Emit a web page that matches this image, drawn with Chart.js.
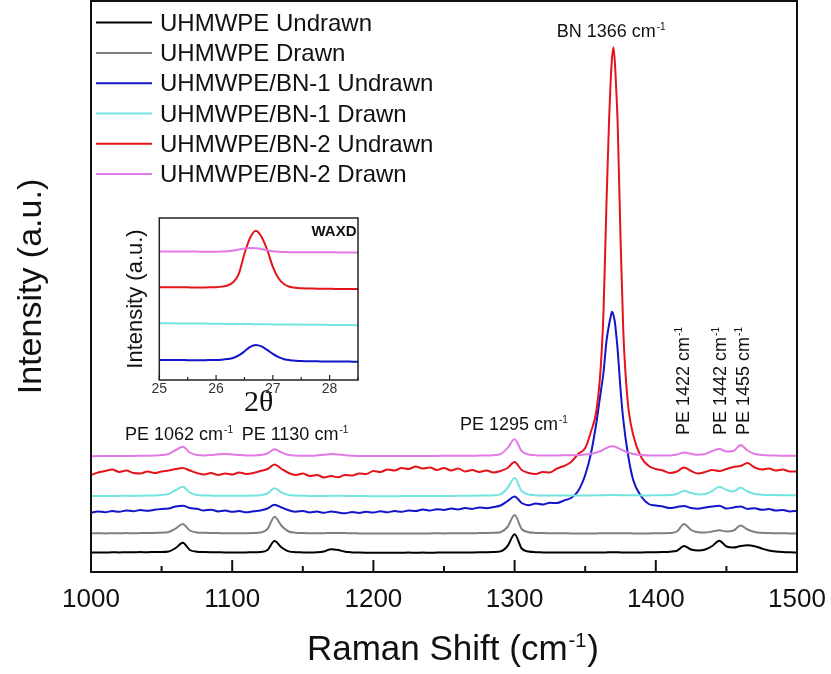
<!DOCTYPE html>
<html>
<head>
<meta charset="utf-8">
<title>Raman spectra of UHMWPE / BN fibres</title>
<script src="https://cdn.jsdelivr.net/npm/chart.js@4.4.1/dist/chart.umd.min.js"></script>
<style>
    html, body { margin: 0; padding: 0; background: #fff; }
    #wrap { position: relative; width: 831px; height: 674px; }
    #main { position: absolute; left: 0; top: 0; }
    #inset { position: absolute; left: 100px; top: 205px; }
</style>
</head>
<body>
<div id="wrap">
    <canvas id="main" width="831" height="674"></canvas>
    <canvas id="inset" width="275" height="220"></canvas>
</div>
<script>
/* =========================================
   DATA
   ========================================= */
// Raman shift (cm-1): 5 cm-1 steps, finer around the BN band
const ramanShift = [
    1000, 1005, 1010, 1015, 1020, 1025, 1030, 1035, 1040, 1045,
    1050, 1055, 1060, 1065, 1070, 1075, 1080, 1085, 1090, 1095,
    1100, 1105, 1110, 1115, 1120, 1125, 1130, 1135, 1140, 1145,
    1150, 1155, 1160, 1165, 1170, 1175, 1180, 1185, 1190, 1195,
    1200, 1205, 1210, 1215, 1220, 1225, 1230, 1235, 1240, 1245,
    1250, 1255, 1260, 1265, 1270, 1275, 1280, 1285, 1290, 1295,
    1300, 1305, 1310, 1315, 1320, 1325, 1330, 1335, 1340, 1345,
    1350,
    1354, 1358, 1361, 1363, 1365, 1366, 1367, 1368, 1369, 1370, 1371, 1372, 1373, 1375, 1377, 1380, 1384,
    1390, 1395, 1400, 1405, 1410, 1415, 1420, 1425, 1430, 1435, 1440, 1445, 1450, 1455, 1460, 1465, 1470, 1475, 1480, 1485, 1490, 1495, 1500
];

// Stacked intensities (a.u., offset per sample)
const peUndrawn = [
    19.5, 19.6, 19.5, 19.7, 19.6, 19.8, 19.7, 19.9, 19.8, 20.0,
    20.0, 20.5, 24.0, 29.3, 22.0, 20.3, 20.0, 19.8, 19.7, 19.6,
    19.6, 19.5, 19.6, 19.7, 19.9, 22.0, 31.0, 24.5, 20.6, 19.8,
    19.6, 19.5, 19.7, 20.6, 22.8, 22.0, 20.2, 19.6, 19.4, 19.3,
    19.3, 19.2, 19.3, 19.2, 19.3, 19.4, 19.3, 19.4, 19.3, 19.4,
    19.5, 19.4, 19.5, 19.5, 19.6, 19.7, 19.8, 20.0, 20.6, 26.0,
    37.8, 23.5, 20.5, 19.8, 19.6, 19.5, 19.5, 19.4, 19.5, 19.4,
    19.5,
    19.4, 19.5, 19.5, 19.6, 19.6, 19.7, 19.7, 19.7, 19.8, 19.8, 19.8, 19.7, 19.7, 19.6, 19.6, 19.5, 19.5,
    19.6, 19.7, 19.8, 20.0, 20.3, 21.3, 26.0, 22.5, 21.5, 22.5, 26.0, 31.3, 25.5, 24.5, 26.0, 26.8, 25.8, 23.5, 21.5, 20.5, 20.0, 19.7, 19.5
];
const peDrawn = [
    38.6, 38.7, 38.6, 38.8, 38.7, 38.9, 38.8, 38.9, 39.0, 39.1,
    39.3, 40.0, 43.5, 48.0, 41.5, 39.6, 39.2, 39.0, 38.9, 38.8,
    38.8, 38.7, 38.8, 39.0, 39.5, 43.0, 55.3, 46.0, 40.5, 39.3,
    38.9, 38.8, 38.7, 38.8, 39.0, 39.1, 38.9, 38.7, 38.6, 38.5,
    38.5, 38.4, 38.5, 38.4, 38.5, 38.5, 38.6, 38.5, 38.6, 38.7,
    38.6, 38.7, 38.7, 38.8, 38.8, 38.9, 39.0, 39.2, 39.8, 45.0,
    57.0, 43.0, 39.8, 39.1, 38.9, 38.8, 38.7, 38.7, 38.6, 38.6,
    38.6,
    38.6, 38.6, 38.7, 38.7, 38.7, 38.8, 38.8, 38.8, 38.8, 38.8, 38.8, 38.8, 38.8, 38.7, 38.7, 38.7, 38.6,
    38.6, 38.6, 38.7, 38.8, 39.0, 40.5, 48.0, 42.0, 39.8, 39.5, 40.5, 41.7, 40.5, 41.5, 46.4, 42.5, 40.0, 39.2, 38.9, 38.8, 38.7, 38.6, 38.6
];
const bn1Undrawn = [
    59.3, 60.5, 59.8, 61.0, 60.2, 61.5, 60.8, 62.0, 61.2, 62.3,
    63.0, 63.5, 65.5, 66.3, 64.0, 63.2, 61.5, 62.3, 60.6, 61.4,
    60.2, 60.9, 59.7, 60.8, 61.6, 63.5, 67.3, 64.5, 61.8, 60.3,
    61.0, 59.5, 60.4, 59.2, 60.6, 59.5, 58.8, 60.0, 59.1, 60.3,
    59.4, 60.8, 59.7, 61.0, 60.2, 61.6, 60.9, 62.5, 61.4, 62.8,
    62.0, 63.4, 62.6, 64.0, 63.1, 64.6, 63.8, 65.0, 66.5, 71.0,
    75.5, 69.0, 66.8, 68.5, 67.5, 69.2, 69.0, 71.5, 74.0, 81.0,
    97.0,
    118, 150, 180, 200, 230, 240, 248, 255, 260.3, 257, 250, 237, 222, 183, 152, 120, 92,
    75, 68, 66.5, 65.5, 64, 65, 66, 64, 63.2, 64.5, 65.5, 66.3, 63.5, 64.6, 65.6, 63, 63.8, 62.2, 63, 61.4, 62, 60.6, 61.2
];
const bn1Drawn = [
    76.0, 76.0, 76.1, 76.0, 76.1, 76.2, 76.1, 76.3, 76.4, 76.6,
    77.0, 78.0, 82.0, 85.3, 79.5, 77.0, 76.5, 76.4, 76.3, 76.3,
    76.2, 76.2, 76.3, 76.4, 76.7, 78.5, 83.7, 79.5, 77.0, 76.4,
    76.2, 76.1, 76.0, 76.0, 76.2, 76.3, 76.1, 76.0, 75.9, 75.9,
    75.8, 75.8, 75.8, 75.8, 75.9, 75.9, 75.9, 76.0, 76.0, 76.0,
    76.1, 76.1, 76.2, 76.3, 76.3, 76.4, 76.5, 76.8, 77.6, 84.0,
    94.0, 81.0, 77.5, 76.8, 76.5, 76.4, 76.4, 76.4, 76.5, 76.5,
    76.6,
    76.6, 76.7, 76.8, 76.8, 76.9, 76.9, 77.0, 77.0, 77.0, 77.0, 77.0, 76.9, 76.9, 76.8, 76.8, 76.7, 76.7,
    76.6, 76.6, 76.7, 76.8, 77.0, 78.0, 81.3, 79.0, 77.6, 78.0, 81.0, 85.3, 82.0, 80.5, 84.3, 80.5, 78.0, 77.3, 77.0, 76.9, 76.8, 76.8, 76.8
];
const bn2Undrawn = [
    97.0, 99.5, 101.0, 102.5, 100.0, 101.5, 99.0, 98.5, 100.5, 99.0,
    100.5, 101.5, 103.0, 104.0, 101.5, 99.0, 97.5, 99.0, 97.0, 98.5,
    97.5, 99.5, 98.0, 99.0, 101.0, 103.0, 107.5, 103.0, 99.0, 97.0,
    98.5, 96.0, 97.0, 94.5, 96.0, 94.7, 97.0, 96.5, 98.5, 98.0,
    101.0, 100.0, 102.5, 101.5, 104.0, 103.0, 105.5, 103.5, 104.5, 102.0,
    104.0, 101.5, 103.5, 100.5, 102.0, 100.0, 101.5, 99.5, 101.0, 104.0,
    110.0, 102.0, 99.0, 98.0, 100.0, 99.5, 103.5, 106.0, 110.0, 118.0,
    124.0,
    140, 162, 205, 262, 365, 412, 455, 490, 514, 524.7, 510, 482, 448, 335, 240, 172, 137,
    114, 106, 103, 101.5, 99, 100.5, 104.5, 101, 98.5, 100, 102, 101, 103, 105, 106, 109, 104.5, 102.5, 103.5, 101.5, 102.5, 100.5, 100.5
];
const bn2Drawn = [
    115.8, 115.9, 115.9, 116.0, 116.0, 116.1, 116.1, 116.2, 116.3, 116.5,
    116.9, 118.0, 122.0, 125.3, 119.5, 117.0, 116.6, 117.0, 117.7, 118.0,
    117.6, 117.0, 116.6, 116.6, 117.0, 118.5, 122.7, 119.5, 117.0, 116.4,
    116.2, 116.3, 116.6, 117.2, 118.0, 117.6, 116.8, 116.3, 116.1, 116.0,
    115.9, 115.9, 115.9, 115.9, 116.0, 116.0, 116.0, 116.1, 116.1, 116.1,
    116.2, 116.2, 116.2, 116.3, 116.3, 116.4, 116.5, 116.8, 117.8, 124.0,
    132.7, 121.0, 117.5, 116.8, 116.6, 116.6, 116.6, 116.7, 116.8, 117.0,
    117.4,
    118.2, 119.5, 121.0, 122.5, 124.0, 124.5, 125.2, 125.6, 125.8, 125.7, 125.3, 124.8, 124.2, 122.8, 121.3, 119.5, 118.0,
    117.0, 116.6, 116.4, 116.4, 116.6, 117.5, 119.5, 118.2, 117.2, 118.0, 121.0, 123.0, 120.5, 121.0, 127.0, 121.5, 118.0, 117.0, 116.6, 116.4, 116.3, 116.2, 116.2
];

const sampleNames = [
    'UHMWPE Undrawn', 'UHMWPE Drawn',
    'UHMWPE/BN-1 Undrawn', 'UHMWPE/BN-1 Drawn',
    'UHMWPE/BN-2 Undrawn', 'UHMWPE/BN-2 Drawn'
];
const sampleColors = ['#000000', '#808080', '#1414c8', '#74e4e0', '#e3151b', '#e27ae6'];
const mainSeries = [peUndrawn, peDrawn, bn1Undrawn, bn1Drawn, bn2Undrawn, bn2Drawn];

// x axis labels and the band assignments written next to the peaks
const shiftTicks = [1000, 1100, 1200, 1300, 1400, 1500];
const bandNames = ['PE 1062', 'PE 1130', 'PE 1295', 'BN 1366', 'PE 1422', 'PE 1442', 'PE 1455'];

// WAXD inset: 2-theta (deg) and the four samples that contain BN
const twoTheta = [
    25.0, 25.1, 25.2, 25.3, 25.4, 25.5, 25.6, 25.7, 25.8, 25.9,
    26.0, 26.1, 26.2, 26.3, 26.4, 26.5, 26.6, 26.7, 26.8, 26.9,
    27.0, 27.1, 27.2, 27.3, 27.4, 27.5, 27.6, 27.7, 27.8, 27.9,
    28.0, 28.1, 28.2, 28.3, 28.4, 28.5
];
const thetaTicks = [25, 26, 27, 28];
const waxdBn1Undrawn = [
    20.0, 20.0, 19.9, 19.9, 19.9, 19.8, 19.8, 19.8, 19.8, 19.9,
    20.0, 20.3, 20.9, 22.0, 24.5, 28.5, 33.0, 35.0, 33.5, 30.0,
    26.0, 22.8, 20.8, 19.8, 19.2, 18.9, 18.8, 18.7, 18.6, 18.5,
    18.5, 18.4, 18.4, 18.4, 18.3, 18.3
];
const waxdBn1Drawn = [
    56.7, 56.6, 56.6, 56.5, 56.5, 56.4, 56.4, 56.3, 56.3, 56.2,
    56.1, 56.1, 56.0, 56.0, 55.9, 55.8, 55.8, 55.7, 55.7, 55.6,
    55.5, 55.5, 55.4, 55.4, 55.3, 55.3, 55.2, 55.2, 55.1, 55.1,
    55.0, 55.0, 54.9, 54.9, 54.8, 54.7
];
const waxdBn2Undrawn = [
    92.7, 92.7, 92.6, 92.6, 92.5, 92.5, 92.4, 92.4, 92.4, 92.5,
    92.7, 93.2, 94.3, 97.5, 106.0, 126.0, 142.0, 149.0, 143.0, 130.0,
    113.0, 101.5, 95.5, 93.0, 92.0, 91.6, 91.4, 91.3, 91.2, 91.1,
    91.0, 90.9, 90.9, 90.8, 90.8, 90.7
];
const waxdBn2Drawn = [
    128.3, 128.3, 128.3, 128.2, 128.2, 128.2, 128.2, 128.1, 128.1, 128.1,
    128.1, 128.2, 128.5, 129.2, 130.3, 131.3, 131.8, 131.5, 130.7, 129.6,
    128.6, 128.0, 127.7, 127.6, 127.6, 127.5, 127.5, 127.5, 127.4, 127.4,
    127.4, 127.4, 127.3, 127.3, 127.3, 127.3
];
const waxdSeries = [waxdBn1Undrawn, waxdBn1Drawn, waxdBn2Undrawn, waxdBn2Drawn];
const waxdColors = [sampleColors[2], sampleColors[3], sampleColors[4], sampleColors[5]];

/* =========================================
   GLOBAL CONFIG
   ========================================= */
const SANS = "'Liberation Sans', Arial, sans-serif";
Chart.defaults.font.family = SANS;
Chart.defaults.color = '#111';

// text with a small raised part, e.g. "cm" + "-1"; returns its width
function drawSup(ctx, x, y, base, sup, tail, size, measureOnly) {
    const supSize = Math.round(size * 0.56);
    ctx.font = `${size}px ${SANS}`;
    const wBase = ctx.measureText(base).width;
    const wTail = tail ? ctx.measureText(tail).width : 0;
    ctx.font = `${supSize}px ${SANS}`;
    const wSup = ctx.measureText(sup).width;
    const total = wBase + 1 + wSup + (tail ? 1 + wTail : 0);
    if (measureOnly) return total;

    ctx.textAlign = 'left';
    ctx.textBaseline = 'alphabetic';
    ctx.font = `${size}px ${SANS}`;
    ctx.fillText(base, x, y);
    ctx.font = `${supSize}px ${SANS}`;
    ctx.fillText(sup, x + wBase + 1, y - size * 0.38);
    if (tail) {
        ctx.font = `${size}px ${SANS}`;
        ctx.fillText(tail, x + wBase + 2 + wSup, y);
    }
    return total;
}

function lineSets(series, xs, colors, names) {
    return series.map((vals, i) => ({
        label: names[i],
        data: vals.map((v, k) => ({ x: xs[k], y: v })),
        borderColor: colors[i],
        borderWidth: 2,
        pointRadius: 0,
        fill: false,
        cubicInterpolationMode: 'monotone',
        order: series.length - i // later samples on top
    }));
}

/* =========================================
   MAIN CHART DECORATION (frame, ticks, legend, labels)
   ========================================= */
const mainDecor = {
    id: 'mainDecor',
    afterDraw(chart) {
        const { ctx, chartArea: a } = chart;
        const xs = chart.scales.x;
        const ys = chart.scales.y;
        ctx.save();

        // frame
        ctx.strokeStyle = '#111';
        ctx.lineWidth = 2;
        ctx.strokeRect(a.left, a.top, a.right - a.left, a.bottom - a.top);

        // inward ticks, minor every 50
        for (let v = xs.min; v <= xs.max; v += 50) {
            const px = xs.getPixelForValue(v);
            const len = v % 100 === 0 ? 12 : 6;
            ctx.beginPath();
            ctx.moveTo(px, a.bottom);
            ctx.lineTo(px, a.bottom - len);
            ctx.stroke();
        }

        // legend
        chart.data.datasets.forEach((ds, i) => {
            const base = 30.6 + i * 30.3;
            ctx.strokeStyle = ds.borderColor;
            ctx.lineWidth = 2;
            ctx.beginPath();
            ctx.moveTo(96, base - 8);
            ctx.lineTo(152, base - 8);
            ctx.stroke();
            ctx.fillStyle = '#111';
            ctx.font = `24px ${SANS}`;
            ctx.textAlign = 'left';
            ctx.textBaseline = 'alphabetic';
            ctx.fillText(ds.label, 160, base);
        });

        // band labels, anchored in data units
        const anchors = [
            { x: 1024.1, y: 132.5 },
            { x: 1106.7, y: 132.5 },
            { x: 1261.3, y: 142.5 },
            { x: 1329.8, y: 534.7 },
            { x: 1423.5, y: 137, up: true },
            { x: 1449.7, y: 137, up: true },
            { x: 1465.8, y: 137, up: true }
        ];
        ctx.fillStyle = '#111';
        bandNames.forEach((name, i) => {
            const p = anchors[i];
            const px = xs.getPixelForValue(p.x);
            const py = ys.getPixelForValue(p.y);
            if (p.up) {
                ctx.save();
                ctx.translate(px, py);
                ctx.rotate(-Math.PI / 2);
                drawSup(ctx, 0, 0, name + ' cm', '-1', '', 18);
                ctx.restore();
            } else {
                drawSup(ctx, px, py, name + ' cm', '-1', '', 18);
            }
        });

        // x axis title
        const w = drawSup(ctx, 0, 0, 'Raman Shift (cm', '-1', ')', 35, true);
        drawSup(ctx, 453 - w / 2, 660, 'Raman Shift (cm', '-1', ')', 35);

        ctx.restore();
    }
};

/* =========================================
   INSET DECORATION
   ========================================= */
const insetDecor = {
    id: 'insetDecor',
    afterDraw(chart) {
        const { ctx, chartArea: a } = chart;
        const xs = chart.scales.x;
        ctx.save();
        ctx.strokeStyle = '#222';
        ctx.lineWidth = 1.5;
        ctx.strokeRect(a.left, a.top, a.right - a.left, a.bottom - a.top);

        ctx.lineWidth = 1.2;
        for (let v = xs.min; v <= xs.max + 1e-6; v += 0.5) {
            const px = xs.getPixelForValue(v);
            const len = Math.abs(v - Math.round(v)) < 1e-6 ? 5 : 3;
            ctx.beginPath();
            ctx.moveTo(px, a.bottom);
            ctx.lineTo(px, a.bottom - len);
            ctx.stroke();
        }

        ctx.fillStyle = '#111';
        ctx.font = `bold 15px ${SANS}`;
        ctx.textAlign = 'right';
        ctx.textBaseline = 'alphabetic';
        ctx.fillText('WAXD', a.right - 1.5, a.top + 18);
        ctx.restore();
    }
};

/* =========================================
   CHARTS
   ========================================= */
function buildMain() {
    new Chart(document.getElementById('main'), {
        type: 'line',
        data: { datasets: lineSets(mainSeries, ramanShift, sampleColors, sampleNames) },
        options: {
            responsive: false,
            animation: false,
            layout: { autoPadding: false, padding: { left: 0, right: 34, top: 1, bottom: 0 } },
            plugins: { legend: { display: false }, tooltip: { enabled: false } },
            scales: {
                x: {
                    type: 'linear', min: 1000, max: 1500,
                    grid: { display: false }, border: { display: false },
                    afterBuildTicks: s => { s.ticks = shiftTicks.map(v => ({ value: v })); },
                    ticks: {
                        padding: 4, color: '#111', font: { size: 26 },
                        callback: v => String(v)
                    },
                    afterFit: s => { s.height = 102; }
                },
                y: {
                    min: 0, max: 571,
                    grid: { display: false }, border: { display: false },
                    ticks: { display: false },
                    title: {
                        display: true, text: 'Intensity (a.u.)', color: '#111',
                        font: { size: 34 }, padding: { top: 11, bottom: 0 }
                    },
                    afterFit: s => { s.width = 91; }
                }
            }
        },
        plugins: [mainDecor]
    });
}

function buildInset() {
    const names = sampleNames.slice(2);
    const datasets = lineSets(waxdSeries, twoTheta, waxdColors, names);

    new Chart(document.getElementById('inset'), {
        type: 'line',
        data: { datasets },
        options: {
            responsive: false,
            animation: false,
            layout: { autoPadding: false, padding: { left: 0, right: 17, top: 13, bottom: 0 } },
            plugins: { legend: { display: false }, tooltip: { enabled: false } },
            scales: {
                x: {
                    type: 'linear', min: 25, max: 28.5,
                    grid: { display: false }, border: { display: false },
                    afterBuildTicks: s => { s.ticks = thetaTicks.map(v => ({ value: v })); },
                    ticks: {
                        padding: -6, color: '#333', font: { size: 14, lineHeight: 1 },
                        callback: v => String(v)
                    },
                    title: {
                        display: true, text: '2θ', color: '#111',
                        font: { size: 30, family: "'Liberation Serif', 'Times New Roman', serif" },
                        padding: { top: 0, bottom: 4 }
                    },
                    afterFit: s => { s.height = 45; }
                },
                y: {
                    min: 0, max: 161.7,
                    grid: { display: false }, border: { display: false },
                    ticks: { display: false },
                    title: {
                        display: true, text: 'Intensity (a.u.)', color: '#111',
                        font: { size: 22 }, padding: { top: 23, bottom: 0 }
                    },
                    afterFit: s => { s.width = 59.3; }
                }
            }
        },
        plugins: [insetDecor]
    });
}

buildMain();
buildInset();
</script>
</body>
</html>
